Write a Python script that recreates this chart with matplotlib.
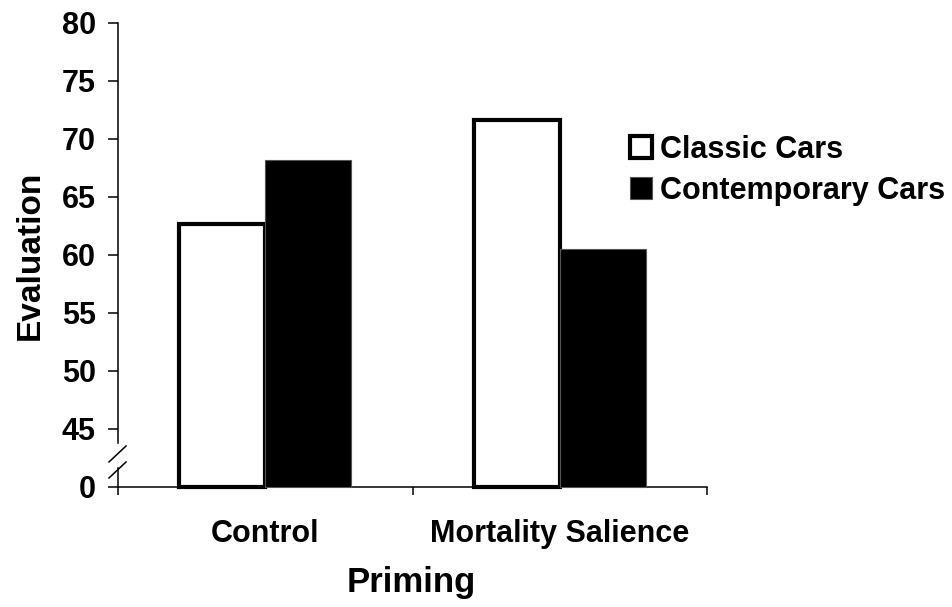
import numpy as np
import matplotlib
matplotlib.use('Agg')
import matplotlib.pyplot as plt

groups = ['Control', 'Mortality Salience']
classic = [62.7, 71.6]
contemporary = [68.2, 60.5]
yticks = [0, 45, 50, 55, 60, 65, 70, 75, 80]

plt.rcParams['font.family'] = ['Liberation Sans', 'DejaVu Sans']
plt.rcParams['font.weight'] = 'bold'
plt.rcParams['axes.labelweight'] = 'bold'


# broken axis: everything below 45 squeezed into one tick step
def fwd(y):
    y = np.asarray(y, dtype=float)
    return np.where(y >= 45, y, 40 + y / 9)


def inv(z):
    z = np.asarray(z, dtype=float)
    return np.where(z >= 45, z, (z - 40) * 9)


fig = plt.figure(figsize=(9.52, 6.07), dpi=100)
ax = fig.add_axes([118 / 952, 120 / 607, 589 / 952, 464 / 607])

x = np.arange(len(groups))
w = 0.292
ax.bar(x - w / 2, classic, w, color='white', edgecolor='black', linewidth=3,
       label='Classic Cars', clip_on=False, zorder=2)
ax.bar(x + w / 2, contemporary, w, color='black', edgecolor='#555555',
       linewidth=0.8, label='Contemporary Cars', clip_on=False, zorder=3)

ax.set_yscale('function', functions=(fwd, inv))
ax.set_ylim(0, 80)
ax.set_yticks(yticks)
ax.set_yticklabels([str(t) for t in yticks], fontweight='bold')
ax.set_xlim(-0.5, 1.5)
ax.set_xticks(x)
ax.set_xticklabels(groups, fontweight='bold')
ax.set_xticks([-0.5, 0.5, 1.5], minor=True)

ax.tick_params(axis='x', which='major', length=0, pad=23, labelsize=22)
ax.tick_params(axis='x', which='minor', length=6, width=1.1, direction='out')
ax.tick_params(axis='y', length=7, width=1.1, pad=9, labelsize=22)

for s in ['top', 'right', 'left']:
    ax.spines[s].set_visible(False)
ax.spines['bottom'].set_linewidth(1.1)

# left axis drawn in two pieces with a break
ax.plot([0, 0], [0.0948, 1], transform=ax.transAxes, color='black', lw=1.1, clip_on=False)
ax.plot([0, 0], [0, 0.041], transform=ax.transAxes, color='black', lw=1.1, clip_on=False)
ax.plot([-0.0153, 0.0136], [0.0539, 0.0884], transform=ax.transAxes, color='black', lw=1.1, clip_on=False)
ax.plot([-0.0153, 0.0136], [0.0194, 0.0539], transform=ax.transAxes, color='black', lw=1.1, clip_on=False)

ax.set_xlabel('Priming', fontsize=25, fontweight='bold')
ax.xaxis.label.set_va('baseline')
ax.xaxis.set_label_coords(0.4975, -0.2263)
ax.set_ylabel('Evaluation', fontsize=24, fontweight='bold')
ax.yaxis.label.set_va('center')
ax.yaxis.set_label_coords(-0.149, 0.5)

ax.legend(loc='upper left', bbox_to_anchor=(630 / 952, 1 - 135 / 607),
          bbox_transform=fig.transFigure, frameon=False,
          prop={'size': 22, 'weight': 'bold'},
          handlelength=0.72, handleheight=0.72, handletextpad=0.26,
          labelspacing=0.35, borderpad=0, borderaxespad=0)

fig.savefig('out.png', dpi=100)
